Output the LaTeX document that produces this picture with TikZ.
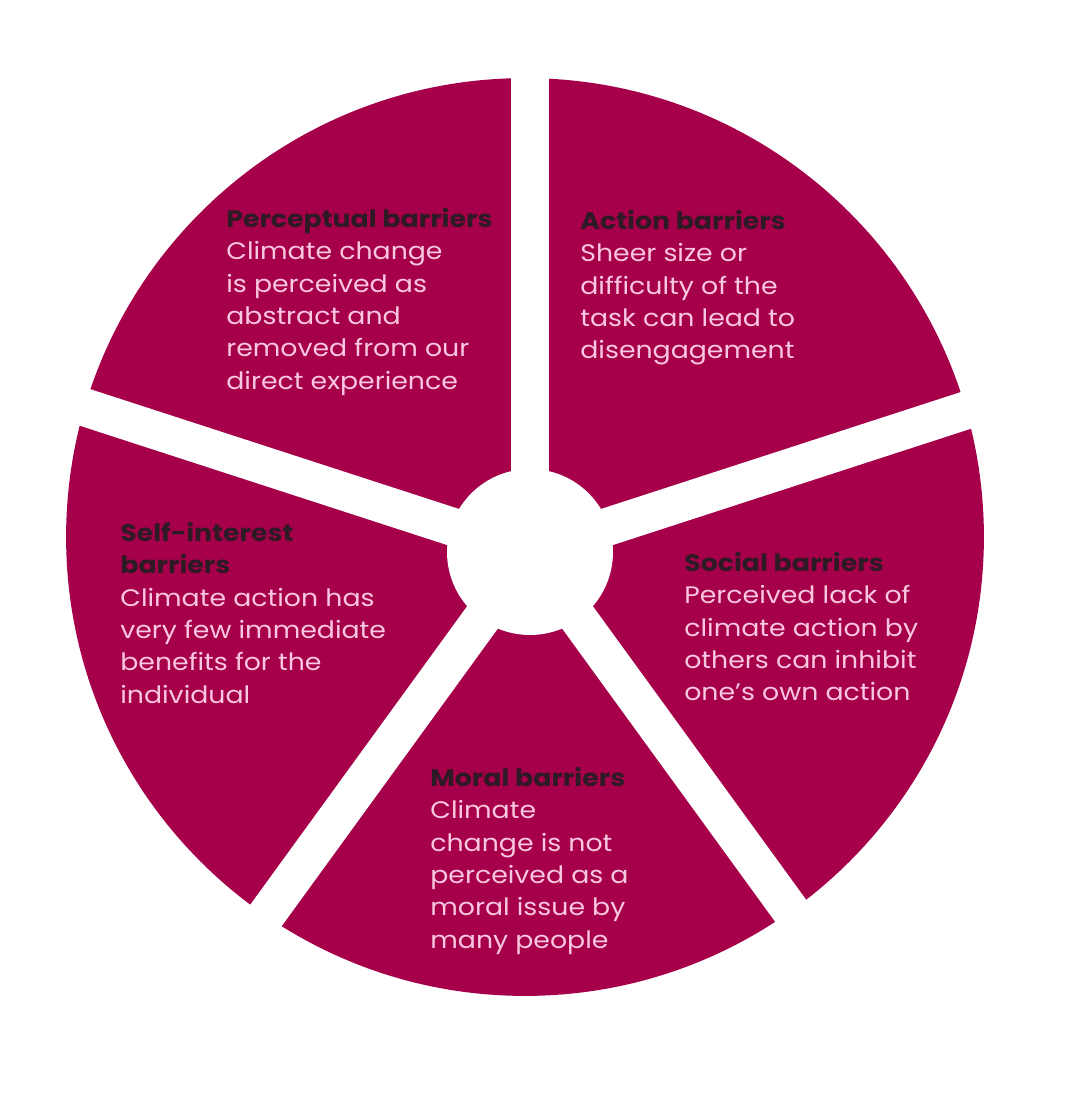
\documentclass[tikz,border=0pt]{standalone}
\usepackage{fontspec}
\setmainfont{Poppins}[FakeStretch=1.12]
\usepackage{tikz}
\definecolor{wheelc}{HTML}{A6004B}
\definecolor{headc}{HTML}{2E1A24}
\definecolor{bodyc}{HTML}{F9C7DF}
\newcommand{\hd}[1]{{\color{headc}\bfseries #1}}

\begin{document}
\begin{tikzpicture}[x=0.02cm,y=-0.02cm,
  gap/.style={draw=white,line width=0.76cm},
  txt/.style={anchor=north west,align=left,inner sep=0pt,text=bodyc,
    font=\fontsize{13.6pt}{18.4pt}\selectfont}]
\useasboundingbox (0,0) rectangle (1080,1095);
\coordinate (rim) at (525,537);
\coordinate (hub) at (530,552);
\fill[wheelc] (rim) circle[radius=9.18cm];
\foreach \a in {18,90,162,234,306}
  \draw[gap] (hub) -- ++(\a:9.8cm);
\fill[white] (hub) circle[radius=1.66cm];
\node[txt] (perc) at (226,208) {\hd{Perceptual barriers}\\Climate change\\is perceived as\\abstract and\\removed from our\\direct experience};
\node[txt] (act) at (580,210) {\hd{Action barriers}\\Sheer size or\\difficulty of the\\task can lead to\\disengagement};
\node[txt] (self) at (120,522) {\hd{Self-interest}\\\hd{barriers}\\Climate action has\\very few immediate\\benefits for the\\individual};
\node[txt] (soc) at (684,552) {\hd{Social barriers}\\Perceived lack of\\climate action by\\others can inhibit\\one’s own action};
\node[txt] (moral) at (430,767) {\hd{Moral barriers}\\Climate\\change is not\\perceived as a\\moral issue by\\many people};
\end{tikzpicture}
\end{document}
